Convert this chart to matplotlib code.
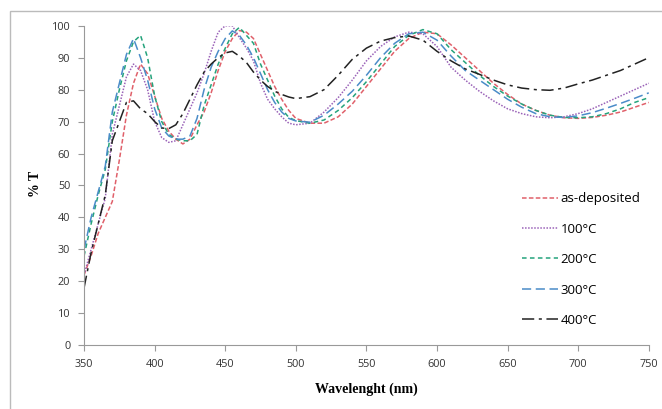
import numpy as np
import matplotlib
matplotlib.use("Agg")
import matplotlib.pyplot as plt
from matplotlib.patches import Rectangle

# wavelength grid (nm): 5 nm steps up to 500, then 10 nm
wl = list(range(350, 505, 5)) + list(range(510, 760, 10))

t_asdep = [22, 28, 35, 40, 45, 58, 72, 82, 88, 85, 78, 71, 67, 64.5, 63, 64.5, 69, 73, 79, 86,
           92, 96, 98.5, 98, 96, 91, 86, 81, 77, 73.5, 71,
           69.5, 69.5, 71.5, 75.5, 81, 86.5, 92, 96, 98, 97.5, 94, 90, 86, 82, 78.5, 75.5, 73.5,
           72, 71.2, 71, 71.3, 72, 73, 74.5, 76]
t_100 = [22, 30, 38, 46, 66, 75, 84, 88, 86, 80, 70, 65, 63.5, 64, 69, 74, 79, 85, 92, 98,
         100, 100, 96.3, 93, 89, 82, 77, 74, 71.5, 69.5, 69,
         69.5, 73, 77.5, 83, 89, 93.5, 96.5, 98, 97.5, 93.5, 87, 83, 79.5, 76.5, 74, 72.5, 71.5,
         71.2, 71.5, 72.5, 74, 76, 78, 80, 82]
t_200 = [28, 38, 47, 55, 70, 80, 89, 95, 97, 90, 78, 70, 66, 64.5, 64, 64, 66, 75, 81.5, 88,
         93, 97.5, 99.5, 97, 94.5, 88, 83, 78, 74, 71.3, 70.3,
         69.5, 70.5, 73.5, 77.5, 82.5, 88, 93.5, 97, 98.8, 97.5, 92.5, 88.5, 84.5, 81, 78, 75.5,
         73.5, 72, 71.3, 71.2, 71.5, 72.5, 74, 76, 77.5]
t_300 = [30, 40, 48, 56, 73, 82, 91, 96, 90, 83, 74, 68, 65.5, 64.5, 64.5, 65.5, 71, 80, 87, 92,
         96, 98.4, 97, 94, 90, 85, 80, 76, 73, 71, 70.2,
         69.8, 72, 75.5, 79.5, 84.5, 90, 94.5, 97.5, 98, 95.5, 90.5, 86, 83, 80, 77, 74.5, 72.5,
         71.5, 71.3, 71.8, 72.8, 74.2, 75.7, 77.3, 79]
t_400 = [18, 29, 38, 47, 64, 70, 76, 76.5, 74, 72.5, 70, 68, 67.8, 69, 72.5, 77, 81.5, 85.5, 88, 90,
         91.5, 92, 90.5, 88.5, 85.5, 83, 81, 79.5, 78.5, 77.7, 77.2,
         77.8, 80, 84.5, 89.5, 93, 95.2, 96.3, 96.8, 95.5, 92, 89, 86.5, 84.8, 83, 81.5, 80.5,
         80, 79.8, 80.5, 81.8, 83, 84.5, 86, 88, 90]

labels = ["as-deposited", "100°C", "200°C", "300°C", "400°C"]
series = [t_asdep, t_100, t_200, t_300, t_400]
colors = ["#e0606a", "#9a62b8", "#25a37c", "#4a8cc8", "#222222"]
dashes = [(0, (3, 1.5)), (0, (1, 1)), (0, (3, 2.2)), (0, (6, 3)), (0, (8, 3, 2, 3))]

fig = plt.figure(figsize=(6.62, 4.09), dpi=100)
ax = fig.add_axes([0.127, 0.156, 0.853, 0.781])

for y, lab, c, ls in zip(series, labels, colors, dashes):
    ax.plot(wl, y, color=c, linestyle=ls, linewidth=1.1, label=lab)

ax.set_xlim(350, 750)
ax.set_ylim(0, 100)
ax.set_xticks(np.arange(350, 751, 50))
ax.set_yticks(np.arange(0, 101, 10))

for s in ["top", "right"]:
    ax.spines[s].set_visible(False)
for s in ["left", "bottom"]:
    ax.spines[s].set_color("#999999")
ax.tick_params(direction="out", length=4, color="#999999", labelsize=7.8,
               labelcolor="#333333", pad=6)
for t in ax.get_xticklabels() + ax.get_yticklabels():
    t.set_family("Open Sans")

ax.set_xlabel("Wavelenght (nm)", family="Liberation Serif", fontweight="bold",
              fontsize=10, labelpad=9)
fig.text(0.053, 0.55, "% T", rotation=90, ha="center", va="center",
         family="Liberation Serif", fontweight="bold", fontsize=10)

leg = ax.legend(loc="lower left", bbox_to_anchor=(0.755, 0.02), frameon=False,
                handlelength=2.7, handletextpad=0.2, labelspacing=1.32,
                prop={"family": "Open Sans", "size": 9.5})

# chart area border
fig.patches.append(Rectangle((10 / 662, -0.1), 1.0, 1.1 - 11 / 409,
                             transform=fig.transFigure, fill=False,
                             edgecolor="#bbbbbb", linewidth=1.0))

fig.savefig("out.png", dpi=100)
